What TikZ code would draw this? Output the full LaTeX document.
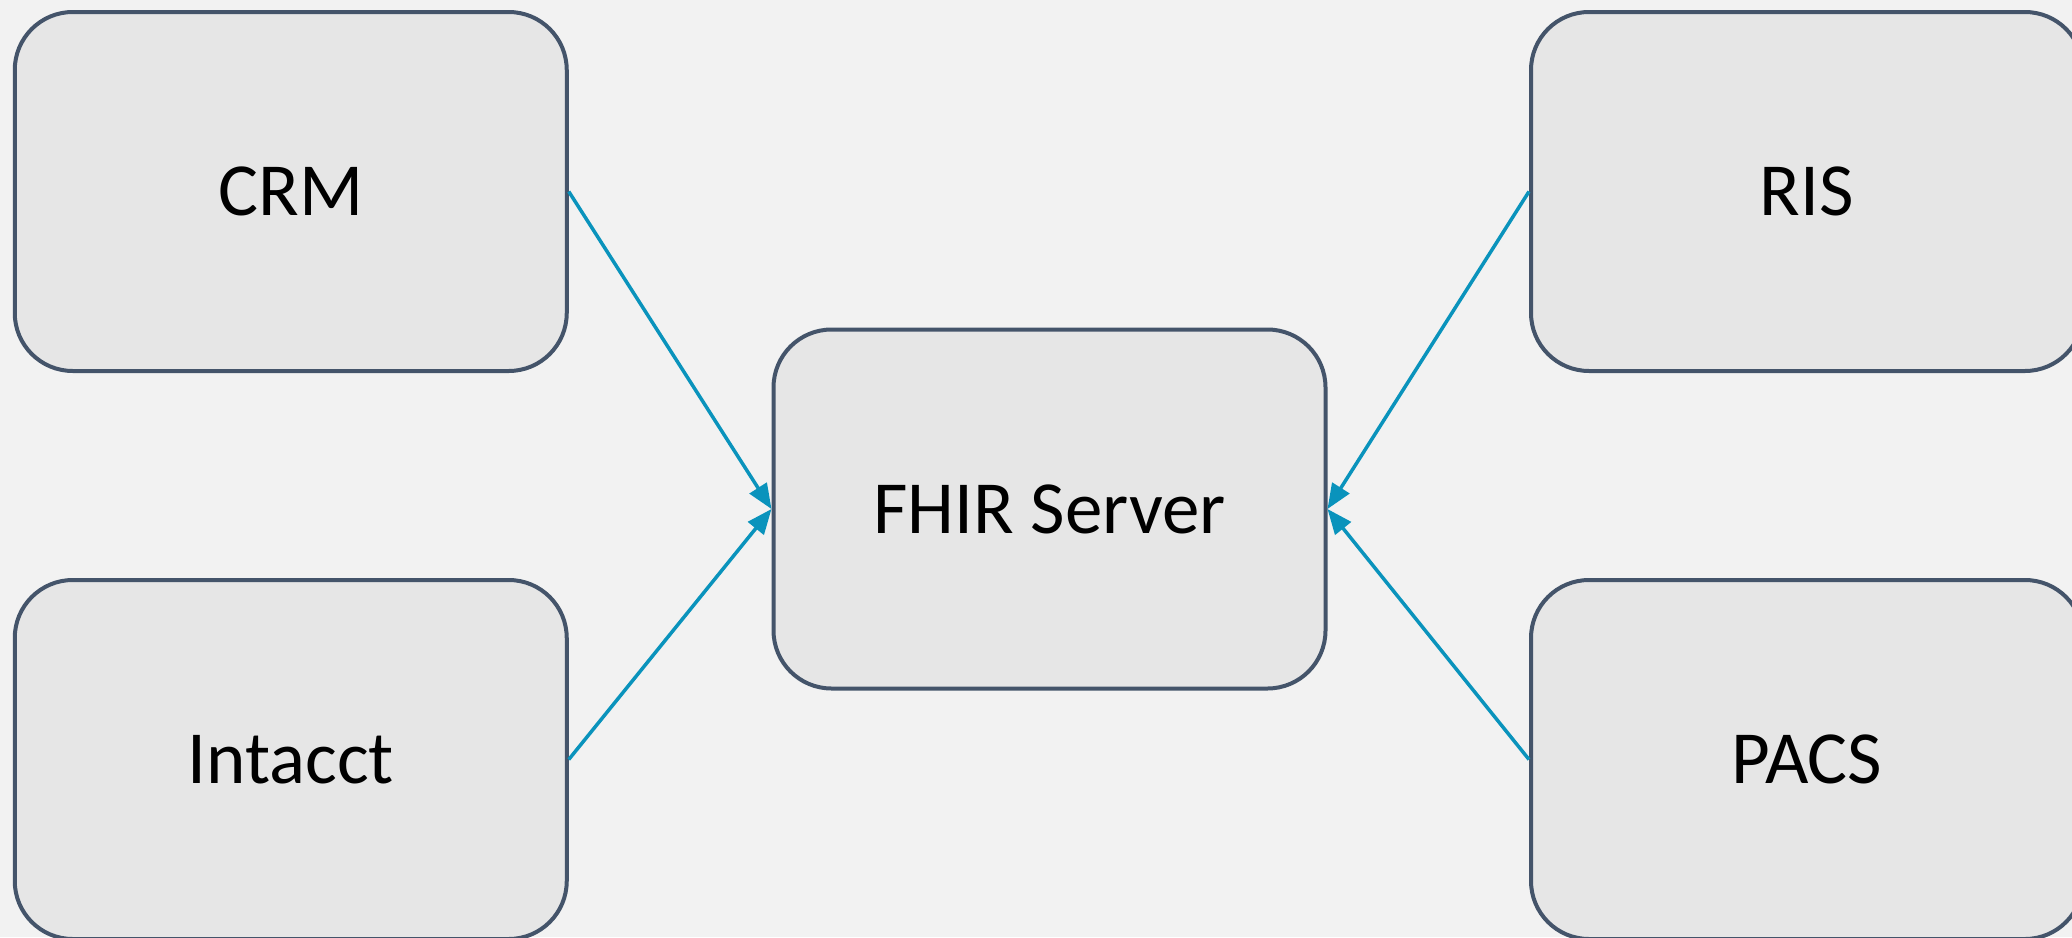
\documentclass[tikz,border=0pt]{standalone}
\usepackage{fontspec}
\setmainfont{Carlito}
\usetikzlibrary{arrows.meta}
\definecolor{bgc}{HTML}{F2F2F2}
\definecolor{boxfill}{HTML}{E6E6E6}
\definecolor{boxline}{HTML}{44546A}
\definecolor{arrowc}{HTML}{0A93BC}
\tikzset{
  sysbox/.style={draw=boxline, fill=boxfill, line width=4pt, rounded corners=58pt,
    minimum width=552pt, minimum height=359pt, inner sep=0pt,
    font=\fontsize{75}{90}\selectfont, text=black},
  flow/.style={draw=arrowc, line width=3.5pt, -{Triangle[length=25pt,width=20pt]}}
}
\begin{document}
\begin{tikzpicture}[x=1pt,y=-1pt]
\path[use as bounding box, fill=bgc] (0,0) rectangle (2072,937);
\clip (0,0) rectangle (2072,937);
\node[sysbox] (crm) at (290.75,191.5) {CRM};
\node[sysbox] (ris) at (1807,191.5) {RIS};
\node[sysbox] (fhir) at (1049.5,509) {FHIR Server};
\node[sysbox] (intacct) at (290.75,759.5) {Intacct};
\node[sysbox] (pacs) at (1807,759.5) {PACS};
\draw[flow] (crm.east) -- (fhir.west);
\draw[flow] (intacct.east) -- (fhir.west);
\draw[flow] (ris.west) -- (fhir.east);
\draw[flow] (pacs.west) -- (fhir.east);
\end{tikzpicture}
\end{document}
